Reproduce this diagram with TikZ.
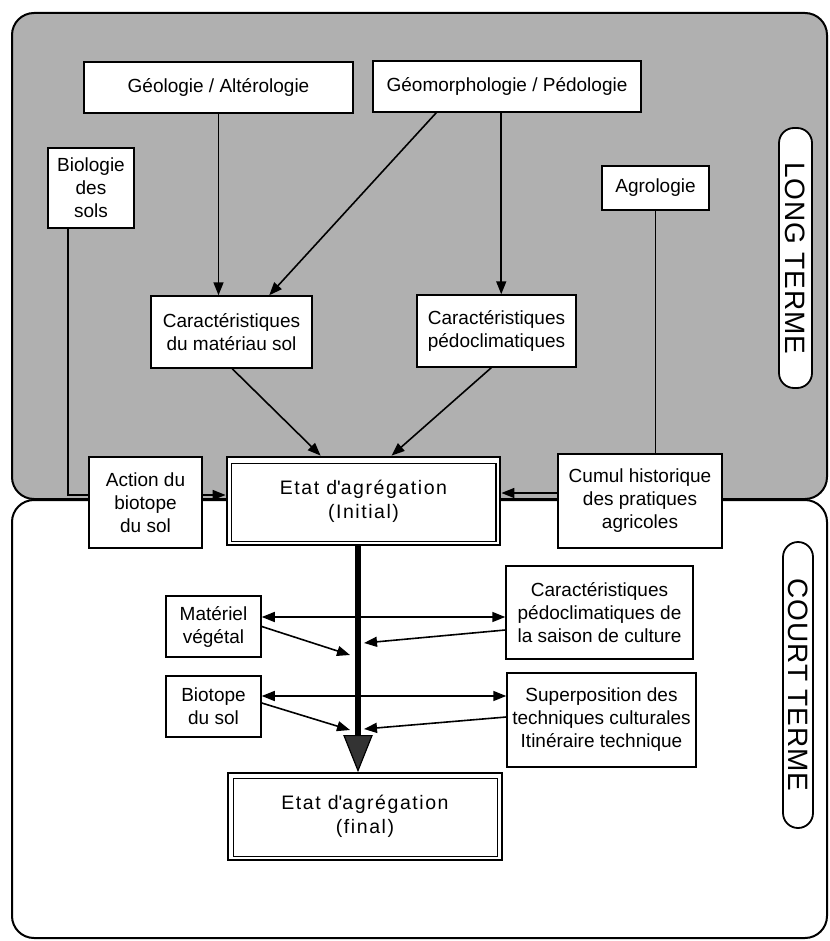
\documentclass[tikz,border=0pt]{standalone}
\usepackage{fontspec}
\setmainfont{Liberation Sans}
\usetikzlibrary{arrows.meta,calc}
\definecolor{panelgray}{RGB}{176,176,176}
\begin{document}
\begin{tikzpicture}[x=1pt,y=-1pt,
  box/.style={draw, line width=1.5pt, fill=white, inner sep=0pt, align=center,
    font=\fontsize{19}{23}\selectfont},
  etatbox/.style={draw, line width=2.8pt, fill=white, inner sep=0pt, align=center,
    font=\fontsize{19.5}{24}\selectfont\addfontfeature{LetterSpace=8}},
  arr/.style={line width=1.6pt, -{Triangle[length=13pt,width=10pt]}},
  darr/.style={line width=1.6pt, {Triangle[length=13pt,width=10pt]}-{Triangle[length=13pt,width=10pt]}},
  ln/.style={line width=1.6pt},
  panel/.style={draw, line width=2pt, rounded corners=22pt},
  pill/.style={draw, line width=1.8pt, fill=white, rounded corners=15pt, inner sep=0pt,
    rotate=-90, font=\fontsize{28}{30}\selectfont\addfontfeature{LetterSpace=3}}
]
\useasboundingbox (0,0) rectangle (829,941);
% panels
\draw[panel, fill=panelgray] (12,13) rectangle (827,499);
\draw[panel, fill=white] (12,500) rectangle (827,938);

% long-term nodes
\node[box, minimum width=269pt, minimum height=51pt] (geol) at (218.5,87.5) {Géologie / Altérologie};
\node[box, minimum width=268pt, minimum height=51pt] (geom) at (507,86.5) {Géomorphologie / Pédologie};
\node[box, minimum width=86pt, minimum height=80pt] (bio) at (91,188) {Biologie\\des\\sols};
\node[box, minimum width=107pt, minimum height=44pt] (agro) at (655.5,188) {Agrologie};
\node[box, minimum width=161pt, minimum height=72pt] (carmat) at (231.5,332) {Caractéristiques\\du matériau sol};
\node[box, minimum width=159pt, minimum height=72pt] (carped) at (496.5,331) {Caractéristiques\\pédoclimatiques};
\node[box, minimum width=113pt, minimum height=91pt] (action) at (145.5,502.5) {Action du\\biotope\\du sol};
\node[box, minimum width=164pt, minimum height=94pt] (cumul) at (640,501) {Cumul historique\\des pratiques\\agricoles};
\node[etatbox, minimum width=273pt, minimum height=88pt] (etati) at (363.5,501) {Etat d\textquotesingle agrégation\\(Initial)};
\draw[line width=1.5pt] ($(etati.north west)+(6,8)$) rectangle ($(etati.south east)+(-5.5,-5)$);

% short-term nodes
\node[box, minimum width=95pt, minimum height=61pt] (mat) at (213.5,626.5) {Matériel\\végétal};
\node[box, minimum width=95pt, minimum height=61pt] (biot) at (213.5,706.5) {Biotope\\du sol};
\node[box, minimum width=187pt, minimum height=93pt] (saison) at (599.5,612.5) {Caractéristiques\\pédoclimatiques de\\la saison de culture};
\node[box, minimum width=189pt, minimum height=94pt] (superp) at (601.5,720) {Superposition des\\techniques culturales\\Itinéraire technique};
\node[etatbox, minimum width=274pt, minimum height=87pt] (etatf) at (365,816.5) {Etat d\textquotesingle agrégation\\(final)};
\draw[line width=1.5pt] ($(etatf.north west)+(7,7)$) rectangle ($(etatf.south east)+(-6,-5)$);

% side labels
\node[pill, minimum width=260pt, minimum height=33pt] (long) at (795.5,258) {LONG TERME};
\node[pill, minimum width=286pt, minimum height=30pt] (court) at (798,685) {COURT TERME};

% long-term connectors
\draw[arr] (geol.south) -- (geol.south |- carmat.north);
\draw[arr] ($(geom.south west)+(64,0)$) -- ($(carmat.north west)+(119,0)$);
\coordinate (gv) at ($(geom.south west)+(129,0)$);
\draw[arr] (gv) -- (gv |- carped.north);
\draw[arr] ($(carmat.south west)+(82,0)$) -- ($(etati.north west)+(95,0)$);
\draw[arr] ($(carped.south west)+(75,0)$) -- ($(etati.north west)+(166,0)$);
\coordinate (bl) at ($(action.west)+(0,-7.5)$);
\draw[ln] ($(bio.south)+(-23,0)$) |- (bl);
\draw[arr] (bl -| action.east) -- (bl -| etati.west);
\draw[ln] (agro.south) -- (agro.south |- cumul.north);
\coordinate (cl) at ($(cumul.west)+(0,-8)$);
\draw[arr] (cl) -- (cl -| etati.east);

% main thick flow
\coordinate (tA) at ($(etati.south)+(-5.5,0)$);
\coordinate (tB) at ($(etatf.north)+(-7,-36)$);
\draw[line width=6pt] (tA) -- (tB);
\draw[line width=1.2pt, fill=black!80] ($(etatf.north)+(-21,-36)$) -- ($(etatf.north)+(7,-36)$) -- ($(etatf.north)+(-7,-1)$) -- cycle;

% short-term connectors
\coordinate (m1) at (350,655);
\coordinate (m2) at (364,643);
\coordinate (m3) at (350,730);
\coordinate (m4) at (364,729);
\coordinate (p1) at ($(mat.east)+(0,-9.5)$);
\draw[darr] (p1) -- (p1 -| saison.west);
\draw[arr] (mat.east) -- (m1);
\draw[arr] ($(saison.west)+(0,17.5)$) -- (m2);
\coordinate (p2) at ($(biot.east)+(0,-10.5)$);
\draw[darr] (p2) -- (p2 -| superp.west);
\draw[arr] ($(biot.east)+(0,-3.5)$) -- (m3);
\draw[arr] ($(superp.west)+(0,-3)$) -- (m4);
\end{tikzpicture}
\end{document}
